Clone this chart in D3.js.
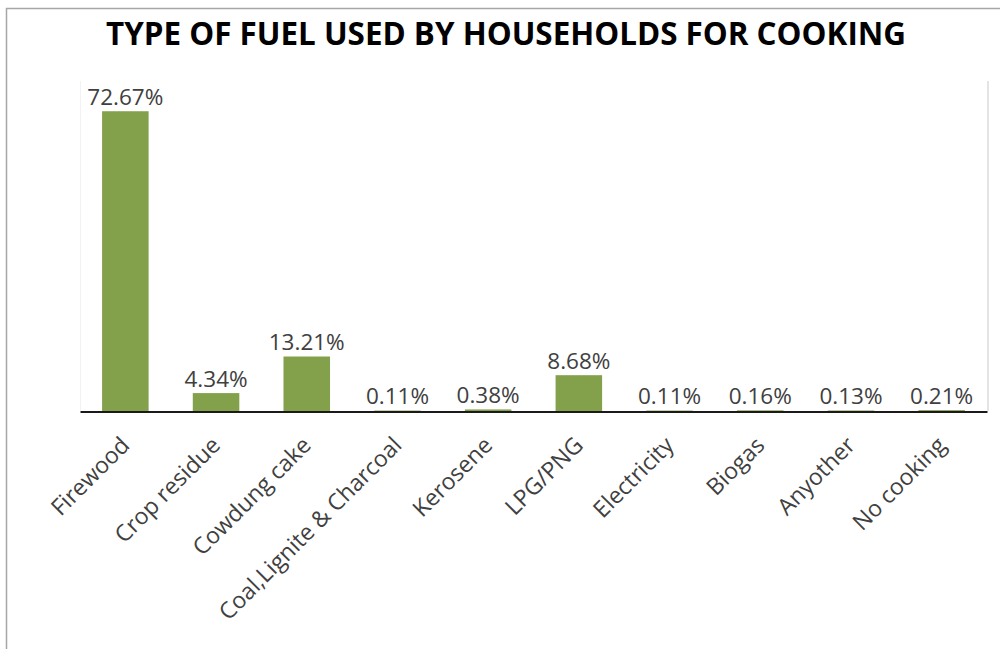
<!DOCTYPE html>
<html>
<head>
<meta charset="utf-8">
<script src="https://cdn.jsdelivr.net/npm/d3@7/dist/d3.min.js"></script>
<style>
  html, body { margin: 0; padding: 0; background: #fff; }
  svg { display: block; }
</style>
</head>
<body>
<svg id="chart" width="1000" height="649"></svg>
<script>
// Cooking fuel shares (% of households)
const categories = ["Firewood", "Crop residue", "Cowdung cake", "Coal,Lignite & Charcoal",
  "Kerosene", "LPG/PNG", "Electricity", "Biogas", "Anyother", "No cooking"];
const shares = [72.67, 4.34, 13.21, 0.11, 0.38, 8.68, 0.11, 0.16, 0.13, 0.21];
const valueLabels = ["72.67%", "4.34%", "13.21%", "0.11%", "0.38%", "8.68%", "0.11%", "0.16%", "0.13%", "0.21%"];
const titleText = "TYPE OF FUEL USED BY HOUSEHOLDS FOR COOKING";

const svg = d3.select("#chart");
const W = 1000, H = 649;
const plot = { left: 80, right: 987, top: 81, bottom: 411 };
const barColor = "#83A04B";
const font = "'Open Sans', 'Noto Sans', sans-serif";

// outer chart frame (extends past the right/bottom edges)
svg.append("rect")
  .attr("x", 6.5).attr("y", 8.5)
  .attr("width", W + 20).attr("height", H + 20)
  .attr("fill", "#fff")
  .attr("stroke", "#a6a6a6").attr("stroke-width", 1.5);

// title
svg.append("text")
  .attr("x", 506).attr("y", 45)
  .attr("text-anchor", "middle")
  .attr("font-family", font)
  .attr("font-weight", 700)
  .attr("font-size", 32)
  .attr("fill", "#000")
  .attr("textLength", 800)
  .attr("lengthAdjust", "spacingAndGlyphs")
  .text(titleText);

const x = d3.scaleBand()
  .domain(categories)
  .range([plot.left, plot.right])
  .paddingInner(0.487)
  .paddingOuter(0.2435);

const y = d3.scaleLinear()
  .domain([0, 80])
  .range([plot.bottom, plot.top]);

// faint plot-area side edges
svg.append("line")
  .attr("x1", plot.left + 0.5).attr("x2", plot.left + 0.5)
  .attr("y1", plot.top).attr("y2", plot.bottom)
  .attr("stroke", "#f2f2f2").attr("stroke-width", 1);
svg.append("line")
  .attr("x1", plot.right + 1).attr("x2", plot.right + 1)
  .attr("y1", plot.top).attr("y2", plot.bottom)
  .attr("stroke", "#e4e4e4").attr("stroke-width", 2);

// bars
svg.append("g")
  .selectAll("rect")
  .data(categories)
  .join("rect")
  .attr("x", d => x(d))
  .attr("width", x.bandwidth())
  .attr("y", (d, i) => y(shares[i]))
  .attr("height", (d, i) => y(0) - y(shares[i]))
  .attr("fill", barColor);

// value labels
svg.append("g")
  .selectAll("text")
  .data(categories)
  .join("text")
  .attr("x", d => x(d) + x.bandwidth() / 2)
  .attr("y", (d, i) => y(shares[i]) - 6.5)
  .attr("text-anchor", "middle")
  .attr("font-family", font)
  .attr("font-size", 22.5)
  .attr("fill", "#404040")
  .text((d, i) => valueLabels[i]);

// category axis
const axis = svg.append("g")
  .attr("transform", `translate(0,${plot.bottom})`)
  .call(d3.axisBottom(x).tickSize(0).tickSizeOuter(0));

axis.select(".domain")
  .attr("stroke", "#1a1a1a")
  .attr("stroke-width", 2)
  .attr("transform", "translate(0,0.5)");

axis.selectAll(".tick text")
  .attr("font-family", font)
  .attr("font-size", 23)
  .attr("fill", "#404040")
  .attr("text-anchor", "end")
  .attr("x", 0).attr("y", 0).attr("dy", "0.35em")
  .attr("transform", "translate(0,30) rotate(-45)");
</script>
</body>
</html>
